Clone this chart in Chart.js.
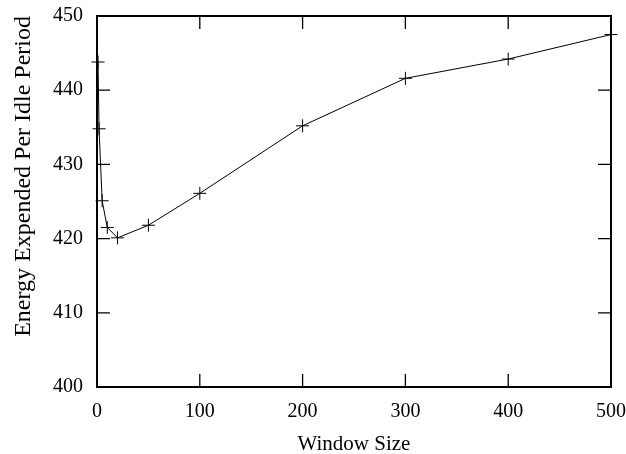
<!DOCTYPE html>
<html>
<head>
<meta charset="utf-8">
<script src="https://cdn.jsdelivr.net/npm/chart.js@4.4.0/dist/chart.umd.js"></script>
<style>
  html, body { margin: 0; padding: 0; background: #ffffff; }
  #wrap { width: 626px; height: 454px; }
</style>
</head>
<body>
<div id="wrap"><canvas id="energyChart" width="626" height="454"></canvas></div>
<script>
// Data
const windowSizes = [1, 2, 5, 10, 20, 50, 100, 200, 300, 400, 500];
const energyPerIdle = [443.8, 434.8, 425.1, 421.5, 420.1, 421.8, 426.1, 435.2, 441.6, 444.2, 447.5];

const xTicks = [0, 100, 200, 300, 400, 500];
const yTicks = [400, 410, 420, 430, 440, 450];

const serif = "'Liberation Serif', 'DejaVu Serif', serif";

// gnuplot-like frame with inward ticks on all four sides
const framePlugin = {
    id: 'frame',
    afterDraw(chart) {
        const ctx = chart.ctx;
        const area = chart.chartArea;
        const xs = chart.scales.x;
        const ys = chart.scales.y;
        const tick = 13;

        ctx.save();
        ctx.strokeStyle = '#000000';
        ctx.lineWidth = 1.3;
        ctx.beginPath();

        xTicks.slice(1, -1).forEach(v => {
            const px = xs.getPixelForValue(v);
            ctx.moveTo(px, area.bottom);
            ctx.lineTo(px, area.bottom - tick);
            ctx.moveTo(px, area.top);
            ctx.lineTo(px, area.top + tick);
        });
        yTicks.slice(1, -1).forEach(v => {
            const py = ys.getPixelForValue(v);
            ctx.moveTo(area.left, py);
            ctx.lineTo(area.left + tick, py);
            ctx.moveTo(area.right, py);
            ctx.lineTo(area.right - tick, py);
        });
        ctx.stroke();

        ctx.lineWidth = 2;
        ctx.strokeRect(area.left, area.top, area.right - area.left, area.bottom - area.top);
        ctx.restore();
    }
};

new Chart(document.getElementById('energyChart'), {
    type: 'line',
    data: {
        datasets: [{
            data: windowSizes.map((x, i) => ({ x: x, y: energyPerIdle[i] })),
            borderColor: '#000000',
            borderWidth: 1,
            tension: 0,
            fill: false,
            pointStyle: 'cross',
            pointRadius: 6.5,
            pointBorderWidth: 1,
            pointBorderColor: '#000000',
            pointBackgroundColor: '#000000',
            clip: false
        }]
    },
    options: {
        responsive: false,
        animation: false,
        layout: {
            padding: { top: 16, right: 15, left: 0, bottom: 0 }
        },
        plugins: {
            legend: { display: false },
            tooltip: { enabled: false }
        },
        scales: {
            x: {
                type: 'linear',
                min: 0,
                max: 500,
                afterBuildTicks: s => { s.ticks = xTicks.map(v => ({ value: v })); },
                afterFit: s => {
                    s.height = 67;
                    s.paddingLeft = 0;
                    s.paddingRight = 0;
                },
                grid: { display: false, drawTicks: false },
                border: { display: false },
                ticks: {
                    padding: 13,
                    color: '#000000',
                    font: { family: serif, size: 20 }
                },
                title: {
                    display: true,
                    text: 'Window Size',
                    color: '#000000',
                    font: { family: serif, size: 21 },
                    padding: { top: 0, bottom: -3 }
                }
            },
            y: {
                type: 'linear',
                min: 400,
                max: 450,
                afterBuildTicks: s => { s.ticks = yTicks.map(v => ({ value: v })); },
                afterFit: s => {
                    s.width = 97;
                    s.paddingTop = 0;
                    s.paddingBottom = 0;
                },
                grid: { display: false, drawTicks: false },
                border: { display: false },
                ticks: {
                    padding: 14,
                    color: '#000000',
                    font: { family: serif, size: 20 }
                },
                title: {
                    display: true,
                    text: 'Energy Expended Per Idle Period',
                    align: 'end',
                    color: '#000000',
                    font: { family: serif, size: 24 },
                    padding: { top: 9, bottom: 0 }
                }
            }
        }
    },
    plugins: [framePlugin]
});
</script>
</body>
</html>
